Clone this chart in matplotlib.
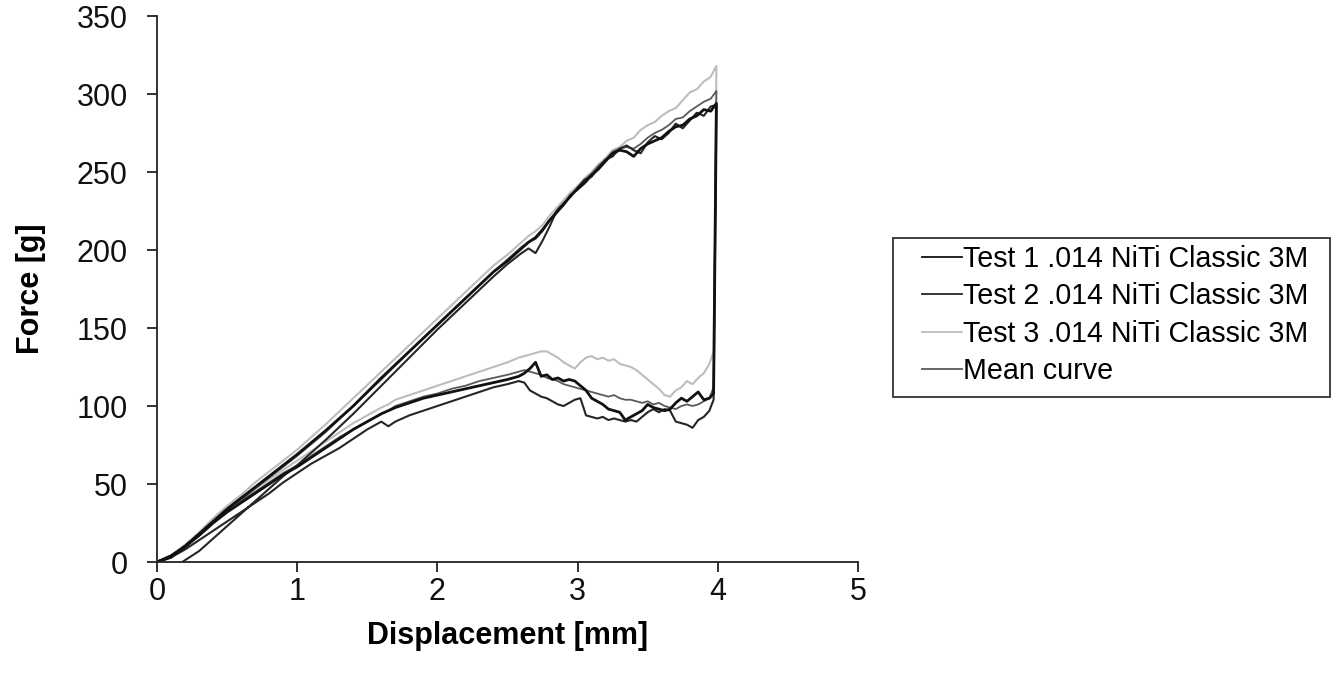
#!/usr/bin/env python3
"""
Force vs. displacement loops for three tests of a .014 NiTi Classic 3M wire,
plus the mean curve. Each curve = loading branch then unloading branch.
"""
import matplotlib
matplotlib.use("Agg")
import matplotlib.pyplot as plt
from matplotlib.patches import Rectangle

plt.rcParams["font.family"] = ["Liberation Sans", "DejaVu Sans"]

LABELS = [
    "Test 1 .014 NiTi Classic 3M",
    "Test 2 .014 NiTi Classic 3M",
    "Test 3 .014 NiTi Classic 3M",
    "Mean curve",
]

# loading branch, displacement [mm]
LOAD_X = [0, 0.1, 0.2, 0.3, 0.4, 0.5, 0.6, 0.7, 0.8, 0.9, 1.0, 1.2, 1.4, 1.6,
          1.8, 2.0, 2.2, 2.4, 2.5, 2.6, 2.65, 2.7, 2.75, 2.8, 2.85, 2.9, 2.95,
          3.0, 3.05, 3.1, 3.15, 3.2, 3.25, 3.3, 3.35, 3.4, 3.45, 3.5, 3.55,
          3.6, 3.65, 3.7, 3.75, 3.8, 3.85, 3.9, 3.95, 3.99]
# test 2 starts with some slack
LOAD_X_T2 = [0.18, 0.3, 0.4, 0.5, 0.6, 0.7, 0.8, 0.9, 1.0, 1.2, 1.4, 1.6,
             1.8, 2.0, 2.2, 2.4, 2.5, 2.6, 2.65, 2.7, 2.75, 2.8, 2.85, 2.9,
             2.95, 3.0, 3.05, 3.1, 3.15, 3.2, 3.25, 3.3, 3.35, 3.4, 3.45, 3.5,
             3.55, 3.6, 3.65, 3.7, 3.75, 3.8, 3.85, 3.9, 3.95, 3.99]

LOAD_T1 = [0, 3, 10, 18, 26, 34, 41, 48, 55, 62, 69, 84, 100, 118,
           135, 152, 169, 186, 193, 201, 205, 208, 213, 219, 224, 229, 235,
           239, 243, 248, 252, 257, 262, 264, 263, 260, 265, 268, 270,
           272, 276, 279, 280, 284, 286, 290, 289, 294]
LOAD_T2 = [0, 7, 15, 23, 31, 39, 47, 55, 62, 78, 95, 113,
           131, 149, 166, 183, 191, 198, 201, 198, 206, 215, 225, 230,
           234, 240, 245, 247, 253, 258, 260, 265, 267, 264, 262, 269,
           273, 271, 275, 281, 278, 283, 288, 286, 292, 293]
LOAD_T3 = [0, 4, 11, 19, 28, 36, 43, 51, 58, 65, 72, 88, 105, 122,
           139, 156, 173, 190, 197, 205, 209, 212, 216, 222, 227, 232, 237,
           241, 246, 250, 255, 259, 264, 266, 270, 272, 277, 280, 282,
           286, 289, 291, 296, 301, 303, 308, 311, 318]
LOAD_MEAN = [0, 3, 9, 17, 25, 33, 40, 47, 54, 61, 68, 83, 100, 117,
             135, 152, 169, 186, 194, 202, 205, 207, 212, 219, 225, 230, 235,
             240, 245, 249, 254, 258, 263, 265, 266, 265, 268, 272, 275,
             277, 280, 284, 285, 289, 292, 295, 297, 302]

# unloading branch (listed low x -> high x, drawn in reverse)
UNLOAD_X = [0.0, 0.1, 0.2, 0.3, 0.4, 0.5, 0.6, 0.7, 0.8, 0.9, 1.0, 1.1, 1.2,
            1.3, 1.4, 1.5, 1.6, 1.65, 1.7, 1.8, 1.9, 2.0, 2.1, 2.2, 2.3, 2.4,
            2.5, 2.58, 2.62, 2.66, 2.7, 2.74, 2.78, 2.82, 2.86, 2.9, 2.94,
            2.98, 3.02, 3.06, 3.1, 3.14, 3.18, 3.22, 3.26, 3.3, 3.34, 3.38,
            3.42, 3.46, 3.5, 3.54, 3.58, 3.62, 3.66, 3.7, 3.74, 3.78, 3.82,
            3.86, 3.9, 3.94, 3.97]

UNLOAD_T1 = [0, 4, 10, 17, 25, 32, 38, 44, 50, 56, 61, 67, 73,
             79, 85, 90, 95, 97, 99, 102, 105, 107, 109, 111, 113, 115,
             117, 119, 121, 124, 128, 119, 120, 117, 118, 116, 117,
             116, 113, 110, 105, 103, 101, 98, 97, 96, 91, 93,
             95, 97, 101, 99, 98, 97, 98, 102, 105, 103, 106,
             109, 104, 105, 108]
UNLOAD_T2 = [0, 3, 8, 14, 20, 26, 32, 38, 44, 51, 57, 63, 68,
             73, 79, 85, 90, 87, 90, 94, 97, 100, 103, 106, 109, 112,
             114, 116, 115, 110, 108, 106, 105, 103, 101, 100, 102,
             104, 105, 94, 93, 92, 93, 91, 92, 91, 90, 91,
             90, 93, 96, 98, 96, 98, 97, 90, 89, 88, 86,
             91, 93, 97, 104]
UNLOAD_T3 = [0, 4, 11, 18, 26, 34, 41, 47, 53, 59, 65, 71, 77,
             83, 89, 94, 99, 101, 104, 107, 110, 113, 116, 119, 122, 125,
             128, 131, 132, 133, 134, 135, 135, 133, 131, 128, 126,
             124, 128, 131, 132, 130, 131, 129, 130, 127, 126, 125,
             123, 120, 117, 114, 111, 107, 106, 110, 112, 116, 114,
             118, 121, 127, 135]
UNLOAD_MEAN = [0, 4, 10, 17, 25, 32, 39, 45, 51, 57, 62, 68, 74,
               80, 85, 90, 95, 97, 100, 103, 106, 108, 111, 113, 116, 118,
               120, 122, 123, 122, 121, 120, 118, 117, 116, 114, 113,
               112, 111, 110, 109, 108, 107, 106, 107, 105, 104, 104,
               103, 102, 103, 101, 102, 100, 99, 98, 100, 101, 100,
               101, 103, 105, 112]

COLORS = ["#111111", "#262626", "#bdbdbd", "#5a5a5a"]
WIDTHS = [2.0, 1.5, 1.5, 1.3]
FONT_SIZE = 22
LEGEND_SIZE = 20.6
W, H = 1341, 678


def loop(load_x, load_y, unload_y):
    return load_x + UNLOAD_X[::-1], load_y + unload_y[::-1]


def plot_curves(out_path="out.png"):
    fig = plt.figure(figsize=(W / 100, H / 100), dpi=100)
    ax = fig.add_axes([157 / W, 1 - 562 / H, 701 / W, 546 / H])

    curves = [
        loop(LOAD_X, LOAD_T1, UNLOAD_T1),
        loop(LOAD_X_T2, LOAD_T2, UNLOAD_T2),
        loop(LOAD_X, LOAD_T3, UNLOAD_T3),
        loop(LOAD_X, LOAD_MEAN, UNLOAD_MEAN),
    ]
    # light test first so the darker curves sit on top
    order = [2, 3, 1, 0]
    handles = {}
    for i in order:
        x, y = curves[i]
        line, = ax.plot(x, y, color=COLORS[i], linewidth=WIDTHS[i],
                        label=LABELS[i])
        handles[i] = line

    ax.set_xlim(0, 5)
    ax.set_ylim(0, 350)
    ax.set_xticks(range(0, 6))
    ax.set_yticks(range(0, 351, 50))
    for side in ("top", "right"):
        ax.spines[side].set_visible(False)
    for side in ("left", "bottom"):
        ax.spines[side].set_linewidth(1.3)
        ax.spines[side].set_color("#222222")
    ax.tick_params(direction="out", length=7, width=1.3, colors="#222222",
                   labelsize=FONT_SIZE, labelcolor="#111111")
    ax.tick_params(axis="y", pad=14)
    ax.tick_params(axis="x", pad=4)

    ax.set_xlabel("Displacement [mm]", fontsize=FONT_SIZE, fontweight="bold",
                  labelpad=10)
    ax.set_ylabel("Force [g]", fontsize=FONT_SIZE, fontweight="bold",
                  labelpad=22)

    # legend box drawn separately so the padding matches the original
    fig.patches.append(Rectangle((893 / W, 1 - 397 / H), 437 / W, 159 / H,
                                 transform=fig.transFigure, fill=False,
                                 edgecolor="#333333", linewidth=1.3))
    leg = ax.legend([handles[i] for i in range(4)], LABELS,
                    loc="upper left", bbox_to_anchor=(922 / W, 1 - 245 / H),
                    bbox_transform=fig.transFigure, fontsize=LEGEND_SIZE,
                    frameon=False, borderpad=0, labelspacing=0.33,
                    handlelength=1.4, handletextpad=0.05, borderaxespad=0)
    for h in leg.get_lines():
        h.set_linewidth(1.3)

    fig.savefig(out_path, dpi=100)
    return fig


def main():
    plot_curves("out.png")


if __name__ == "__main__":
    main()
